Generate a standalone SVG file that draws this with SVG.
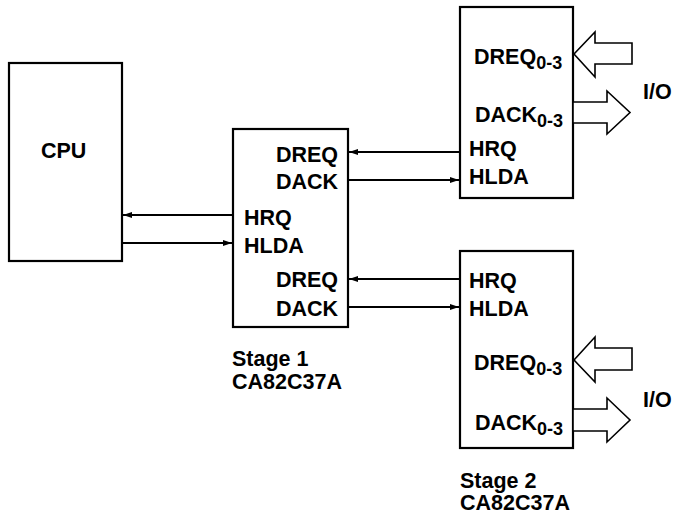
<svg xmlns="http://www.w3.org/2000/svg" width="675" height="515" viewBox="0 0 675 515">
  <style>
    .box { fill: #fff; stroke: #000; stroke-width: 2.2; }
    .t { font-family: "Liberation Sans", Arial, sans-serif; font-weight: bold; font-size: 21.5px; fill: #000; }
    .sub { font-size: 18px; }
    .w { stroke: #000; stroke-width: 1.8; fill: none; }
    .bus { fill: #fff; stroke: #000; stroke-width: 1.6; stroke-linejoin: miter; }
  </style>
  <defs>
    <marker id="ah" markerUnits="userSpaceOnUse" markerWidth="10" markerHeight="8" refX="9" refY="4" orient="auto">
      <path d="M0,1 L9,4 L0,7 Z" fill="#000"/>
    </marker>
  </defs>
  <rect width="675" height="515" fill="#fff"/>

  <g id="cpu">
    <rect class="box" x="9" y="63" width="113" height="198"/>
    <text class="t" x="41" y="158">CPU</text>
  </g>

  <g id="stage1">
    <rect class="box" x="233" y="129" width="115" height="198"/>
    <text class="t" x="338" y="162" text-anchor="end">DREQ</text>
    <text class="t" x="338" y="189" text-anchor="end">DACK</text>
    <text class="t" x="244" y="225">HRQ</text>
    <text class="t" x="244" y="253">HLDA</text>
    <text class="t" x="338" y="287" text-anchor="end">DREQ</text>
    <text class="t" x="338" y="316" text-anchor="end">DACK</text>
    <text class="t" x="232" y="366">Stage 1</text>
    <text class="t" x="232" y="389">CA82C37A</text>
  </g>

  <g id="stage2a">
    <rect class="box" x="460" y="7" width="113" height="191"/>
    <text class="t" x="474" y="63.5">DREQ<tspan class="sub" dy="5">0-3</tspan></text>
    <text class="t" x="475" y="122">DACK<tspan class="sub" dy="5">0-3</tspan></text>
    <text class="t" x="469" y="156">HRQ</text>
    <text class="t" x="469" y="184">HLDA</text>
  </g>

  <g id="stage2b">
    <rect class="box" x="460" y="251" width="113" height="197"/>
    <text class="t" x="469" y="288">HRQ</text>
    <text class="t" x="469" y="316">HLDA</text>
    <text class="t" x="474" y="370">DREQ<tspan class="sub" dy="5">0-3</tspan></text>
    <text class="t" x="475" y="430">DACK<tspan class="sub" dy="5">0-3</tspan></text>
    <text class="t" x="460" y="488">Stage 2</text>
    <text class="t" x="460" y="510">CA82C37A</text>
  </g>

  <g id="io1">
    <text class="t" x="643" y="99">I/O</text>
  </g>
  <g id="io2">
    <text class="t" x="643" y="407">I/O</text>
  </g>

  <g id="connectors">
    <line class="w" x1="233" y1="215" x2="123" y2="215" marker-end="url(#ah)"/>
    <line class="w" x1="122" y1="243" x2="232" y2="243" marker-end="url(#ah)"/>
    <line class="w" x1="460" y1="152" x2="349" y2="152" marker-end="url(#ah)"/>
    <line class="w" x1="348" y1="180" x2="459" y2="180" marker-end="url(#ah)"/>
    <line class="w" x1="460" y1="279" x2="349" y2="279" marker-end="url(#ah)"/>
    <line class="w" x1="348" y1="307" x2="459" y2="307" marker-end="url(#ah)"/>
    <polygon class="bus" points="574,54 595,32 595,43 632,43 632,64 595,64 595,77"/>
    <polygon class="bus" points="573,102 607,102 607,91 630,112.5 607,134 607,123 573,123"/>
    <polygon class="bus" points="574,360 595,337 595,348 632,348 632,370 595,370 595,382"/>
    <polygon class="bus" points="573,409 607,409 607,398 630,420 607,442 607,431 573,431"/>
  </g>
</svg>
